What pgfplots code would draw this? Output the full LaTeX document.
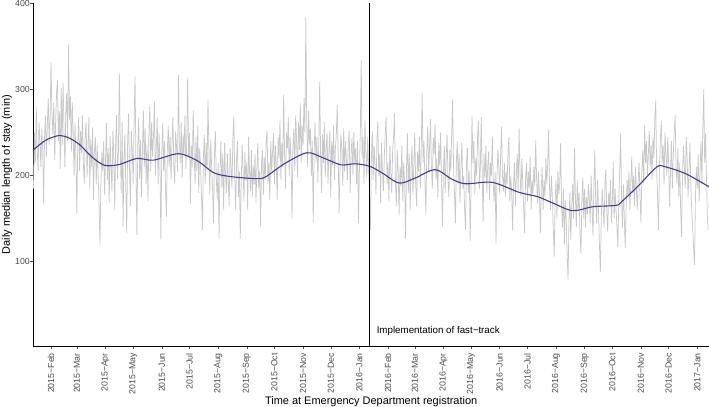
\documentclass[border=0pt]{standalone}
\usepackage{pgfplots}
\pgfplotsset{compat=1.18}
\usepackage{fontspec}
\setmainfont{Liberation Sans}
\definecolor{greyline}{HTML}{C9C9C9}
\definecolor{smoothblue}{RGB}{66,62,148}
\definecolor{ticktext}{HTML}{4D4D4D}
\begin{document}
\begin{tikzpicture}
\begin{axis}[
  at={(0,0)}, anchor=south west,
  scale only axis, width=675.7bp, height=343bp,
  xmin=11.8, xmax=743.7, ymin=2.1, ymax=400.6,
  clip=false,
  axis lines*=left,
  axis line style={-, black, line width=0.9bp},
  tick align=outside,
  major tick length=3bp,
  tick style={black!70, line width=0.5bp},
  xtick={31,59,90,120,151,181,212,243,273,304,334,365,396,425,456,486,517,547,578,609,639,670,700,731},
  xticklabels={2015−Feb,2015−Mar,2015−Apr,2015−May,2015−Jun,2015−Jul,2015−Aug,2015−Sep,2015−Oct,2015−Nov,2015−Dec,2016−Jan,2016−Feb,2016−Mar,2016−Apr,2016−May,2016−Jun,2016−Jul,2016−Aug,2016−Sep,2016−Oct,2016−Nov,2016−Dec,2017−Jan},
  ytick={100,200,300,400},
  /pgf/number format/assume math mode=true,
  xticklabel style={rotate=90, anchor=east, inner sep=0pt, text=ticktext, font=\fontsize{8.8}{10}\selectfont},
  yticklabel style={anchor=east, inner sep=0pt, text=ticktext, font=\fontsize{8.8}{10}\selectfont},
  xticklabel shift=4bp,
  yticklabel shift=0.3bp,
]
\addplot[greyline, line width=0.75bp] coordinates {
(12,185) (13,250) (14,215) (15,280) (16,232) (17,205) (18,262) (19,240) (20,210) (21,255)
(22,228) (23,168) (24,245) (25,270) (26,222) (27,258) (28,290) (29,236) (30,268) (31,332)
(32,270) (33,248) (34,285) (35,218) (36,262) (37,296) (38,311) (39,240) (40,275) (41,208)
(42,302) (43,235) (44,308) (45,258) (46,210) (47,272) (48,296) (49,240) (50,352) (51,265)
(52,292) (53,228) (54,285) (55,248) (56,200) (57,262) (58,216) (59,156) (60,240) (61,268)
(62,205) (63,252) (64,226) (65,270) (66,214) (67,190) (68,248) (69,262) (70,198) (71,235)
(72,268) (73,185) (74,242) (75,210) (76,256) (77,172) (78,228) (79,245) (80,190) (81,236)
(82,200) (83,170) (84,119) (85,188) (86,228) (87,205) (88,240) (89,178) (90,215) (91,261)
(92,195) (93,232) (94,168) (95,246) (96,210) (97,182) (98,252) (99,225) (100,160) (101,238)
(102,270) (103,196) (104,228) (105,319) (106,235) (107,180) (108,262) (109,141) (110,215) (111,248)
(112,185) (113,133) (114,240) (115,272) (116,208) (117,165) (118,252) (119,228) (120,190) (121,262)
(122,315) (123,212) (124,131) (125,235) (126,268) (127,196) (128,242) (129,175) (130,228) (131,276)
(132,210) (133,255) (134,190) (135,236) (136,170) (137,248) (138,280) (139,205) (140,262) (141,222)
(142,245) (143,286) (144,200) (145,232) (146,268) (147,190) (148,250) (149,214) (150,126) (151,228)
(152,262) (153,205) (154,240) (155,185) (156,152) (157,230) (158,258) (159,210) (160,245) (161,195)
(162,238) (163,268) (164,212) (165,190) (166,252) (167,232) (168,205) (169,317) (170,240) (171,215)
(172,262) (173,198) (174,248) (175,225) (176,270) (177,208) (178,236) (179,314) (180,222) (181,250)
(182,168) (183,235) (184,210) (185,276) (186,225) (187,190) (188,245) (189,205) (190,258) (191,180)
(192,232) (193,210) (194,175) (195,137) (196,220) (197,248) (198,190) (199,238) (200,205) (201,288)
(202,230) (203,178) (204,242) (205,210) (206,185) (207,145) (208,225) (209,252) (210,198) (211,172)
(212,215) (213,127) (214,205) (215,240) (216,186) (217,225) (218,160) (219,238) (220,200) (221,180)
(222,226) (223,192) (224,165) (225,232) (226,210) (227,185) (228,245) (229,270) (230,198) (231,160)
(232,220) (233,240) (234,175) (235,205) (236,127) (237,190) (238,236) (239,210) (240,170) (241,228)
(242,195) (243,215) (244,160) (245,245) (246,205) (247,182) (248,230) (249,175) (250,212) (251,190)
(252,225) (253,168) (254,210) (255,238) (256,185) (257,205) (258,141) (259,215) (260,230) (261,178)
(262,222) (263,195) (264,238) (265,253) (266,190) (267,215) (268,172) (269,240) (270,205) (271,228)
(272,250) (273,190) (274,235) (275,212) (276,172) (277,245) (278,220) (279,265) (280,195) (281,238)
(282,210) (283,294) (284,225) (285,185) (286,250) (287,232) (288,268) (289,200) (290,245) (291,218)
(292,150) (293,232) (294,255) (295,205) (296,270) (297,240) (298,198) (299,262) (300,230) (301,284)
(302,215) (303,258) (304,235) (305,290) (306,250) (307,383) (308,262) (309,210) (310,275) (311,236)
(312,255) (313,200) (314,240) (315,146) (316,228) (317,262) (318,215) (319,245) (320,192) (321,235)
(322,309) (323,225) (324,180) (325,248) (326,215) (327,262) (328,198) (329,232) (330,250) (331,190)
(332,228) (333,252) (334,175) (335,240) (336,212) (337,258) (338,195) (339,232) (340,246) (341,282)
(342,225) (343,156) (344,210) (345,248) (346,232) (347,188) (348,255) (349,205) (350,240) (351,218)
(352,195) (353,238) (354,252) (355,180) (356,225) (357,245) (358,200) (359,251) (360,215) (361,232)
(362,190) (363,240) (364,145) (365,205) (366,250) (367,334) (368,220) (369,245) (370,190) (371,264)
(372,228) (373,198) (374,245) (375,210) (376,180) (377,137) (378,220) (379,252) (380,195) (381,235)
(382,215) (383,178) (384,242) (385,263) (386,200) (387,225) (388,168) (389,238) (390,205) (391,182)
(392,222) (393,250) (394,268) (395,190) (396,215) (397,170) (398,235) (399,205) (400,180) (401,228)
(402,245) (403,272) (404,195) (405,165) (406,230) (407,205) (408,154) (409,210) (410,188) (411,235)
(412,170) (413,215) (414,192) (415,127) (416,205) (417,249) (418,180) (419,225) (420,160) (421,210)
(422,235) (423,178) (424,212) (425,250) (426,190) (427,165) (428,228) (429,205) (430,245) (431,185)
(432,230) (433,296) (434,215) (435,240) (436,195) (437,156) (438,225) (439,258) (440,205) (441,232)
(442,266) (443,210) (444,185) (445,245) (446,225) (447,260) (448,195) (449,220) (450,175) (451,238)
(452,212) (453,250) (454,190) (455,141) (456,205) (457,235) (458,180) (459,222) (460,248) (461,195)
(462,175) (463,230) (464,205) (465,250) (466,288) (467,210) (468,180) (469,145) (470,215) (471,240)
(472,190) (473,225) (474,168) (475,210) (476,238) (477,185) (478,200) (479,160) (480,137) (481,215)
(482,232) (483,180) (484,205) (485,124) (486,190) (487,270) (488,215) (489,240) (490,178) (491,220)
(492,200) (493,245) (494,264) (495,185) (496,210) (497,268) (498,205) (499,146) (500,225) (501,198)
(502,235) (503,180) (504,210) (505,228) (506,172) (507,215) (508,200) (509,245) (510,190) (511,170)
(512,205) (513,121) (514,195) (515,230) (516,212) (517,178) (518,225) (519,257) (520,200) (521,182)
(522,215) (523,175) (524,205) (525,190) (526,228) (527,245) (528,170) (529,200) (530,180) (531,137)
(532,190) (533,215) (534,165) (535,200) (536,225) (537,182) (538,255) (539,205) (540,175) (541,220)
(542,190) (543,160) (544,133) (545,198) (546,215) (547,170) (548,205) (549,185) (550,222) (551,160)
(552,195) (553,178) (554,210) (555,188) (556,241) (557,195) (558,168) (559,205) (560,180) (561,133)
(562,185) (563,210) (564,160) (565,195) (566,175) (567,220) (568,190) (569,215) (570,253) (571,185)
(572,160) (573,200) (574,175) (575,140) (576,106) (577,170) (578,195) (579,150) (580,205) (581,178)
(582,190) (583,238) (584,165) (585,140) (586,185) (587,120) (588,172) (589,150) (590,110) (591,79)
(592,145) (593,180) (594,125) (595,165) (596,190) (597,150) (598,232) (599,175) (600,140) (601,195)
(602,160) (603,180) (604,130) (605,110) (606,170) (607,198) (608,150) (609,185) (610,140) (611,175)
(612,155) (613,190) (614,175) (615,145) (616,200) (617,165) (618,130) (619,185) (620,230) (621,170)
(622,145) (623,195) (624,160) (625,120) (626,88) (627,150) (628,185) (629,165) (630,140) (631,190)
(632,207) (633,155) (634,135) (635,180) (636,165) (637,195) (638,145) (639,170) (640,216) (641,150)
(642,185) (643,160) (644,140) (645,117) (646,175) (647,205) (648,249) (649,170) (650,140) (651,190)
(652,150) (653,116) (654,165) (655,195) (656,175) (657,205) (658,160) (659,190) (660,222) (661,180)
(662,200) (663,165) (664,210) (665,185) (666,160) (667,195) (668,215) (669,175) (670,145) (671,205)
(672,230) (673,190) (674,259) (675,215) (676,240) (677,200) (678,225) (679,252) (680,210) (681,235)
(682,195) (683,245) (684,220) (685,265) (686,288) (687,205) (688,175) (689,137) (690,210) (691,240)
(692,264) (693,215) (694,235) (695,190) (696,250) (697,225) (698,200) (699,245) (700,215) (701,164)
(702,205) (703,240) (704,185) (705,225) (706,250) (707,270) (708,210) (709,190) (710,232) (711,175)
(712,215) (713,160) (714,129) (715,200) (716,235) (717,210) (718,185) (719,245) (720,220) (721,175)
(722,205) (723,238) (724,190) (725,160) (726,140) (727,115) (728,96) (729,175) (730,210) (731,185)
(732,225) (733,170) (734,205) (735,240) (736,190) (737,255) (738,300) (739,215) (740,249) (741,195)
(742,150) (743,137)
};
\addplot[smoothblue, line width=1.1bp, smooth, tension=0.5] coordinates {
(12,230) (25,241) (39,246.5) (50,244) (62,236) (75,222) (89,212) (105,213) (124,220) (142,218)
(169,225.5) (190,217) (207,203.5) (225,199) (254,196.5) (264,199) (284,214) (308,226.6) (325,221)
(345,212.6) (360,213.8) (376,211) (390,203) (408,191.4) (425,197) (447,207) (465,196) (480,190.6)
(509,192.2) (538,180.6) (558,175.6) (575,168) (596,159.3) (618,163.9) (643,165.5) (649,169.7)
(667,188) (687,210) (696,210.4) (719,202) (743.7,187)
};
\addplot[black, line width=0.8bp] coordinates {(376,2.1) (376,400.6)};
\node[anchor=west, inner sep=0pt, font=\fontsize{9.8}{11}\selectfont] at (axis cs:383.6,19.5) {Implementation of fast−track};
\node[rotate=90, anchor=base, font=\fontsize{11}{13}\selectfont] at ([xshift=-23.3bp]axis description cs:0,0.5) {Daily median length of stay (min)};
\node[anchor=base, font=\fontsize{11}{13}\selectfont] at ([yshift=-58bp]axis description cs:0.5,0) {Time at Emergency Department registration};
\end{axis}
\pgfresetboundingbox
\path (-33.3bp,-61bp) rectangle (675.7bp,346bp);
\end{tikzpicture}
\end{document}
